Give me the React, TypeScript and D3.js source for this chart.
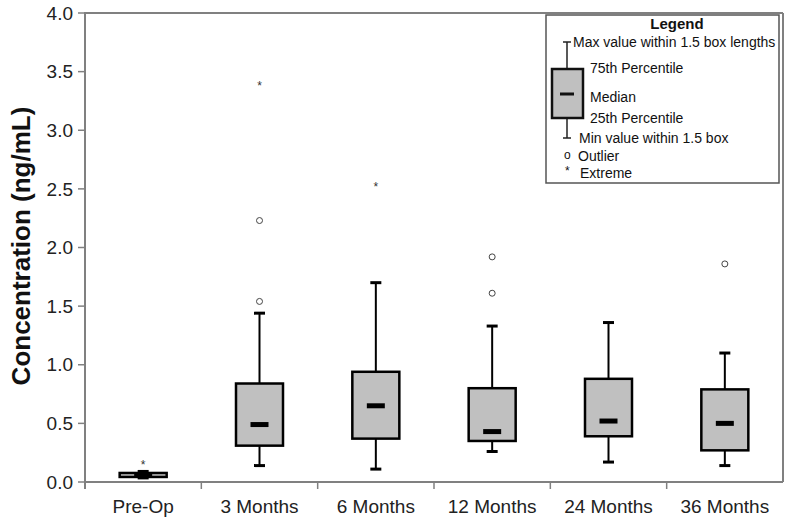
import React from "react";
import * as d3 from "d3";

const categories = ["Pre-Op", "3 Months", "6 Months", "12 Months", "24 Months", "36 Months"];
const whiskerLow = [0.035, 0.14, 0.11, 0.26, 0.17, 0.14];
const q1 = [0.043, 0.31, 0.37, 0.35, 0.39, 0.27];
const medians = [0.06, 0.49, 0.65, 0.43, 0.52, 0.5];
const q3 = [0.077, 0.84, 0.94, 0.8, 0.88, 0.79];
const whiskerHigh = [0.09, 1.44, 1.7, 1.33, 1.36, 1.1];
const outliers: number[][] = [[], [2.23, 1.54], [], [1.92, 1.61], [], [1.86]];
const extremes: number[][] = [[0.17], [3.4], [2.54], [], [], []];
const yTicks = [0, 0.5, 1.0, 1.5, 2.0, 2.5, 3.0, 3.5, 4.0];

const W = 786;
const H = 519;
const left = 85;
const right = 783;
const top = 13;
const bottom = 482;
const FONT = "'Liberation Sans', Arial, Helvetica, sans-serif";
const AXIS = "#808080";

export default function App() {
  const x = d3.scaleBand<string>().domain(categories).range([left, right]).paddingInner(0).paddingOuter(0);
  const y = d3.scaleLinear().domain([0, 4]).range([bottom, top]);
  const bw = x.bandwidth();
  const boxW = 47;
  const capW = 11;
  const medW = 18;

  return (
    <svg
      width={W}
      height={H}
      style={{ position: "absolute", left: 0, top: 0, background: "#fff" }}
      fontFamily={FONT}
    >
      {/* frame top & right */}
      <line x1={left} x2={right} y1={top} y2={top} stroke={AXIS} strokeWidth={2} />
      <line x1={right} x2={right} y1={top} y2={bottom} stroke={AXIS} strokeWidth={2} />

      {/* y axis */}
      <line x1={left} x2={left} y1={top - 1} y2={bottom + 7} stroke={AXIS} strokeWidth={2} />
      {yTicks.map((t) => (
        <g key={t}>
          <line x1={left - 7} x2={left} y1={y(t)} y2={y(t)} stroke={AXIS} strokeWidth={1.5} />
          <text x={left - 12} y={y(t)} dy="0.35em" textAnchor="end" fontSize={19} fill="#222">
            {t.toFixed(1)}
          </text>
        </g>
      ))}
      <text
        transform={`translate(30,246) rotate(-90)`}
        textAnchor="middle"
        fontSize={26}
        fontWeight="bold"
        fill="#111"
      >
        Concentration (ng/mL)
      </text>

      {/* x axis */}
      <line x1={left} x2={right} y1={bottom} y2={bottom} stroke={AXIS} strokeWidth={2} />
      {categories.slice(1).map((c) => (
        <line key={c} x1={x(c)!} x2={x(c)!} y1={bottom} y2={bottom + 7} stroke={AXIS} strokeWidth={1.5} />
      ))}
      {categories.map((c) => (
        <text key={c} x={x(c)! + bw / 2} y={513} textAnchor="middle" fontSize={19} fill="#222">
          {c}
        </text>
      ))}

      {/* boxes */}
      {categories.map((c, i) => {
        const cx = x(c)! + bw / 2;
        return (
          <g key={c}>
            <line x1={cx} x2={cx} y1={y(whiskerHigh[i])} y2={y(q3[i])} stroke="#000" strokeWidth={2} />
            <line x1={cx} x2={cx} y1={y(q1[i])} y2={y(whiskerLow[i])} stroke="#000" strokeWidth={2} />
            <line x1={cx - capW / 2} x2={cx + capW / 2} y1={y(whiskerHigh[i])} y2={y(whiskerHigh[i])} stroke="#000" strokeWidth={3} />
            <line x1={cx - capW / 2} x2={cx + capW / 2} y1={y(whiskerLow[i])} y2={y(whiskerLow[i])} stroke="#000" strokeWidth={3} />
            <rect
              x={cx - boxW / 2}
              y={y(q3[i])}
              width={boxW}
              height={y(q1[i]) - y(q3[i])}
              fill="#c0c0c0"
              stroke="#000"
              strokeWidth={2.5}
            />
            <line x1={cx - medW / 2} x2={cx + medW / 2} y1={y(medians[i])} y2={y(medians[i])} stroke="#000" strokeWidth={5} />
            {outliers[i].map((v, k) => (
              <circle key={k} cx={cx} cy={y(v)} r={3} fill="#fff" stroke="#444" strokeWidth={1} />
            ))}
            {extremes[i].map((v, k) => (
              <text key={k} x={cx} y={y(v) + 7} textAnchor="middle" fontSize={12} fill="#333">
                *
              </text>
            ))}
          </g>
        );
      })}

      {/* legend */}
      <g>
        <rect x={546} y={15} width={233} height={168} fill="#fff" stroke="#555" strokeWidth={1.5} />
        <text x={677} y={29} textAnchor="middle" fontSize={15} fontWeight="bold" fill="#111">
          Legend
        </text>
        <line x1={567} x2={567} y1={42} y2={138} stroke="#222" strokeWidth={1.5} />
        <line x1={563} x2={571} y1={42} y2={42} stroke="#222" strokeWidth={1.5} />
        <line x1={563} x2={571} y1={138} y2={138} stroke="#222" strokeWidth={1.5} />
        <rect x={552} y={69} width={31} height={49} fill="#c0c0c0" stroke="#111" strokeWidth={2.5} />
        <line x1={560} x2={574} y1={94} y2={94} stroke="#111" strokeWidth={3} />
        <g fontSize={14} fill="#111">
          <text x={573} y={42} dy="0.35em">Max value within 1.5 box lengths</text>
          <text x={590} y={68} dy="0.35em">75th Percentile</text>
          <text x={590} y={97} dy="0.35em">Median</text>
          <text x={590} y={118} dy="0.35em">25th Percentile</text>
          <text x={579} y={138} dy="0.35em">Min value within 1.5 box</text>
          <text x={564} y={155} dy="0.35em" fontSize={12}>o</text>
          <text x={578} y={156} dy="0.35em">Outlier</text>
          <text x={565} y={175} fontSize={12}>*</text>
          <text x={580} y={173} dy="0.35em">Extreme</text>
        </g>
      </g>
    </svg>
  );
}
